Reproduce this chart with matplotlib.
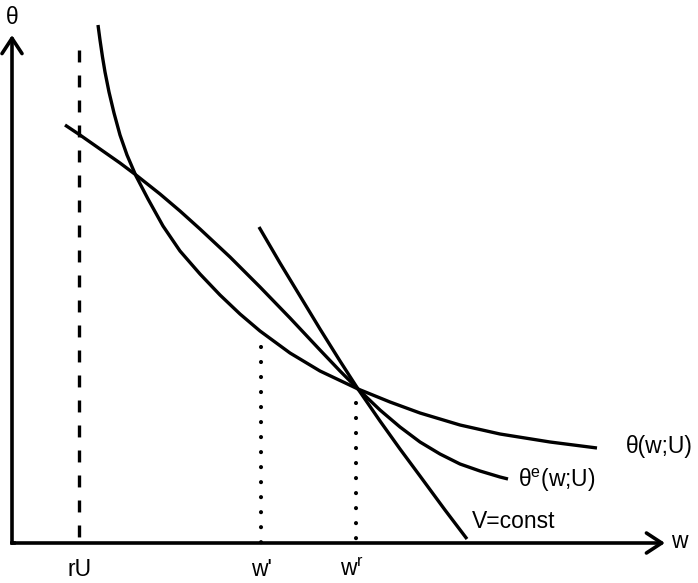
import matplotlib
matplotlib.use('Agg')
import matplotlib.pyplot as plt

plt.rcParams['font.family'] = ['Liberation Sans', 'DejaVu Sans']
plt.rcParams['mathtext.fontset'] = 'custom'
plt.rcParams['mathtext.rm'] = 'Liberation Sans'
plt.rcParams['mathtext.it'] = 'Liberation Sans'
plt.rcParams['lines.scale_dashes'] = False

# theta(w;U)
theta_w = [0.86, 0.88, 0.905, 0.93, 0.97, 1.02, 1.08, 1.15, 1.24, 1.36, 1.51, 1.68, 1.88,
           2.08, 2.28, 2.48, 2.78, 3.08, 3.46, 3.78, 4.08, 4.48, 4.88, 5.38, 5.85]
theta_y = [5.18, 5.03, 4.86, 4.71, 4.51, 4.30, 4.08, 3.88, 3.67, 3.44, 3.17, 2.92, 2.69,
           2.48, 2.29, 2.12, 1.90, 1.72, 1.54, 1.41, 1.30, 1.18, 1.09, 1.01, 0.95]

# theta^e(w;U)
thetae_w = [0.53, 0.68, 0.88, 1.08, 1.24, 1.48, 1.68, 1.88, 2.18, 2.48, 2.78, 3.08, 3.28,
            3.46, 3.68, 3.88, 4.08, 4.28, 4.48, 4.68, 4.88, 4.96]
thetae_y = [4.18, 4.08, 3.94, 3.80, 3.68, 3.49, 3.32, 3.14, 2.86, 2.56, 2.25, 1.93, 1.72,
            1.54, 1.33, 1.16, 1.01, 0.89, 0.79, 0.72, 0.66, 0.64]

# V = const
v_w = [2.47, 2.68, 2.88, 3.08, 3.28, 3.46, 3.68, 3.88, 4.08, 4.33, 4.55]
v_y = [3.16, 2.80, 2.47, 2.14, 1.82, 1.54, 1.22, 0.94, 0.67, 0.33, 0.04]

# vertical markers
rU = 0.67
rU_top = 4.93
w_prime = 2.49
w_prime_top = 1.96
w_r = 3.44
w_r_top = 1.40

x_end = 6.53
y_end = 5.08

fig = plt.figure(figsize=(6.98, 5.83), dpi=100)
ax = fig.add_axes([0, 0, 1, 1])
ax.set_xlim(-0.12, 6.86)
ax.set_ylim(-0.40, 5.43)
ax.axis('off')

lw = 2.4
fs = 16.5

# axes with arrows
arrow = dict(arrowstyle='->, head_length=0.55, head_width=0.36', lw=2.6,
             color='black', shrinkA=0, shrinkB=0, mutation_scale=20)
ax.annotate('', xy=(x_end, 0), xytext=(0, 0), arrowprops=arrow)
ax.annotate('', xy=(0, y_end), xytext=(0, 0), arrowprops=arrow)
ax.plot([0, 0.02], [0, 0], color='black', lw=2.6)

# curves
ax.plot(theta_w, theta_y, color='black', lw=lw, solid_capstyle='butt')
ax.plot(thetae_w, thetae_y, color='black', lw=lw, solid_capstyle='butt')
ax.plot(v_w, v_y, color='black', lw=lw, solid_capstyle='butt')

# dashed / dotted verticals
ax.plot([rU, rU], [rU_top, 0], color='black', lw=lw, dashes=(8.6, 9.4),
        dash_capstyle='butt')
ax.plot([w_prime, w_prime], [w_prime_top, 0], color='black', lw=3.0,
        dashes=(0.01, 10.8), dash_capstyle='round')
ax.plot([w_r, w_r], [w_r_top, 0], color='black', lw=3.0,
        dashes=(0.01, 10.8), dash_capstyle='round')

# labels
ax.text(0, 5.26, 'θ', fontsize=fs, ha='center', va='center')
ax.text(6.67, 0.02, 'w', fontsize=fs, ha='center', va='center')
ax.text(6.14, 0.96, 'θ(w;U)', fontsize=fs, ha='left', va='center')
ax.text(5.06, 0.63, r'θ$^{\mathrm{e}}$(w;U)', fontsize=fs, ha='left', va='center')
ax.text(4.60, 0.22, 'V=const', fontsize=fs, ha='left', va='center')
ax.text(rU + 0.01, -0.27, 'rU', fontsize=fs, ha='center', va='center')
ax.text(w_prime, -0.27, "w'", fontsize=fs, ha='center', va='center')
ax.text(w_r - 0.04, -0.27, r'w$^{\mathrm{r}}$', fontsize=fs, ha='center', va='center')

fig.savefig('out.png', dpi=100)
